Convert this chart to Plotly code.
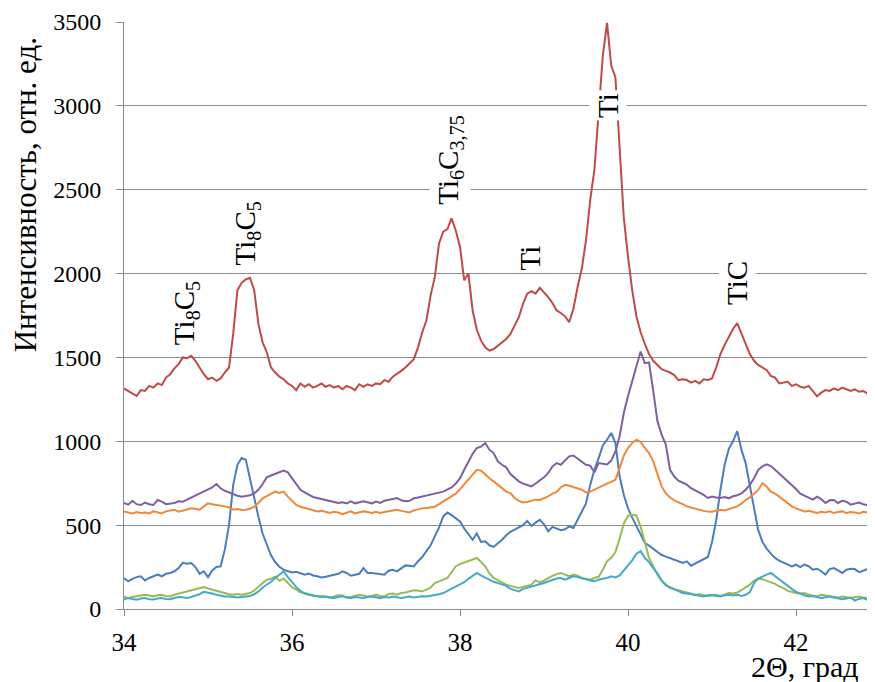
import plotly.graph_objects as go

# 2-theta sampling grid (step 0.05 deg, 34.00 ... 42.95)
two_theta = [round(34 + 0.05 * i, 2) for i in range(180)]

red = [
    1315, 1300, 1285, 1270, 1305, 1300, 1330, 1320, 1345, 1335,
    1380, 1400, 1435, 1460, 1500, 1495, 1510, 1480, 1440, 1400,
    1370, 1380, 1360, 1375, 1410, 1440, 1640, 1900, 1945, 1965,
    1975, 1900, 1700, 1590, 1530, 1440, 1410, 1385, 1370, 1345,
    1330, 1305, 1345, 1325, 1340, 1320, 1330, 1345, 1325, 1335,
    1320, 1330, 1310, 1330, 1320, 1305, 1340, 1325, 1340, 1330,
    1345, 1340, 1365, 1355, 1385, 1400, 1420, 1440, 1465, 1490,
    1560, 1650, 1720, 1870, 1980, 2180, 2250, 2265, 2330, 2255,
    2160, 1960, 2000, 1780, 1665, 1600, 1560, 1540, 1550, 1570,
    1590, 1610, 1640, 1690, 1740, 1820, 1880, 1895, 1880, 1915,
    1890, 1860, 1825, 1780, 1765, 1745, 1710, 1790, 1920, 2030,
    2200, 2440, 2620, 2950, 3300, 3495, 3240, 3170, 2737, 2330,
    2100, 1900, 1744, 1650, 1580, 1520, 1480, 1455, 1430, 1420,
    1410, 1395, 1365, 1370, 1365, 1350, 1360, 1345, 1370, 1365,
    1375, 1440, 1520, 1575, 1620, 1670, 1705, 1640, 1580, 1520,
    1480, 1455, 1440, 1425, 1390, 1380, 1345, 1350, 1355, 1330,
    1340, 1325, 1320, 1330, 1300, 1268, 1290, 1305, 1300, 1315,
    1305, 1320, 1310, 1300, 1310, 1295, 1300, 1285, 1300, 1295,
]

purple = [
    632, 622, 645, 625, 620, 635, 625, 620, 650, 640,
    625, 630, 632, 642, 640, 652, 665, 675, 690, 700,
    712, 725, 745, 720, 705, 695, 681, 675, 670, 672,
    678, 690, 711, 745, 785, 796, 805, 812, 825, 815,
    780, 748, 711, 695, 680, 668, 662, 655, 650, 644,
    638, 632, 636, 630, 642, 630, 635, 642, 636, 630,
    640, 632, 645, 650, 655, 662, 648, 642, 645, 660,
    665, 670, 676, 682, 688, 694, 700, 712, 725, 748,
    780, 830, 880, 925, 960, 968, 990, 950, 930, 880,
    860, 845, 805, 780, 761, 748, 738, 731, 748, 765,
    785, 811, 850, 870, 860, 885, 910, 915, 895, 875,
    860, 855, 815, 870, 865, 862, 885, 940, 1030, 1170,
    1270, 1360, 1450, 1535, 1466, 1470, 1300, 1120, 1040, 980,
    830, 790, 765, 755, 741, 720, 708, 693, 680, 662,
    670, 665, 662, 668, 660, 672, 678, 690, 711, 740,
    780, 830, 850, 862, 852, 830, 808, 780, 762, 741,
    715, 688, 675, 662, 652, 670, 655, 632, 648, 650,
    632, 645, 640, 622, 630, 635, 625, 620, 642, 645,
]

orange = [
    582, 575, 570, 578, 572, 575, 570, 582, 575, 570,
    582, 585, 592, 580, 588, 592, 600, 598, 592, 612,
    630, 625, 622, 618, 612, 605, 592, 596, 590, 592,
    598, 610, 632, 660, 675, 690, 700, 692, 700, 670,
    642, 620, 610, 602, 595, 590, 582, 585, 578, 572,
    580, 575, 565, 575, 582, 570, 575, 582, 578, 572,
    580, 572, 578, 582, 588, 592, 585, 582, 576, 588,
    595, 600, 602, 605, 610, 625, 640, 655, 668, 688,
    715, 745, 775, 800, 830, 825, 800, 780, 761, 740,
    720, 700, 691, 662, 645, 635, 638, 645, 652, 650,
    660, 672, 688, 698, 725, 740, 735, 728, 720, 711,
    695, 700, 712, 725, 733, 748, 758, 771, 840, 915,
    960, 990, 1010, 995, 960, 930, 880, 810, 731, 690,
    665, 648, 638, 625, 612, 605, 600, 592, 585, 582,
    580, 586, 592, 588, 595, 602, 612, 628, 650, 665,
    685, 710, 750, 730, 700, 688, 670, 650, 635, 612,
    600, 590, 582, 585, 580, 572, 580, 575, 582, 572,
    578, 582, 572, 578, 575, 570, 580, 575, 565, 570,
]

blue = [
    185, 165, 180, 190, 195, 170, 185, 195, 205, 195,
    210, 215, 225, 245, 275, 270, 274, 250, 210, 225,
    190, 230, 250, 254, 354, 500, 740, 860, 900, 890,
    770, 655, 550, 450, 380, 320, 280, 252, 234, 225,
    218, 222, 215, 205, 212, 200, 195, 188, 192, 198,
    205, 210, 224, 215, 198, 205, 210, 244, 215, 215,
    212, 210, 205, 228, 234, 224, 240, 260, 258, 254,
    285, 310, 345, 380, 433, 485, 552, 575, 560, 540,
    522, 480, 450, 413, 450, 400, 404, 380, 370, 390,
    413, 440, 460, 473, 485, 500, 525, 495, 515, 532,
    505, 463, 490, 480, 470, 475, 492, 483, 530, 585,
    630, 740, 830, 900, 975, 1009, 1050, 989, 790, 680,
    600, 545, 495, 445, 394, 378, 360, 340, 322, 312,
    304, 296, 285, 275, 284, 258, 270, 285, 295, 310,
    400, 530, 711, 860, 955, 1000, 1060, 950, 870, 740,
    590, 470, 400, 360, 330, 304, 288, 276, 268, 254,
    264, 250, 265, 255, 234, 240, 225, 205, 238, 244,
    230, 215, 234, 240, 238, 220, 228, 240, 254, 262,
]

green = [
    75, 65, 72, 75, 78, 85, 80, 75, 82, 85,
    78, 75, 85, 92, 100, 105, 110, 118, 128, 131,
    122, 115, 108, 100, 95, 88, 85, 90, 85, 88,
    95, 110, 135, 155, 175, 180, 192, 168, 182, 158,
    130, 115, 100, 95, 88, 80, 75, 78, 72, 68,
    75, 82, 80, 68, 72, 78, 85, 80, 75, 78,
    85, 78, 75, 90, 92, 85, 95, 98, 105, 112,
    110, 105, 115, 128, 155, 165, 172, 185, 220, 255,
    268, 276, 284, 292, 304, 280, 254, 212, 185, 172,
    160, 145, 138, 130, 125, 132, 140, 145, 172, 158,
    170, 185, 198, 208, 215, 205, 195, 205, 198, 185,
    178, 175, 185, 192, 235, 285, 305, 340, 420, 510,
    555, 562, 558, 490, 400, 305, 254, 205, 168, 145,
    125, 118, 112, 105, 100, 92, 85, 88, 82, 78,
    80, 85, 78, 85, 95, 92, 98, 112, 128, 145,
    170, 182, 178, 168, 160, 150, 135, 125, 108, 100,
    95, 92, 95, 85, 78, 75, 85, 80, 75, 70,
    68, 75, 72, 65, 70, 75, 68, 65, 72, 75,
]

teal = [
    56, 66, 60, 56, 62, 66, 58, 56, 62, 66,
    60, 58, 66, 72, 70, 66, 72, 78, 88, 102,
    98, 92, 85, 80, 75, 75, 72, 68, 72, 75,
    78, 88, 105, 128, 145, 162, 185, 205, 224, 190,
    160, 132, 108, 92, 85, 80, 76, 72, 75, 68,
    65, 72, 76, 70, 65, 72, 68, 66, 72, 75,
    70, 65, 72, 68, 75, 70, 66, 70, 75, 68,
    72, 76, 75, 78, 82, 88, 95, 108, 120, 135,
    145, 160, 180, 198, 215, 200, 188, 175, 162, 155,
    148, 138, 120, 112, 105, 120, 128, 135, 140, 148,
    155, 165, 175, 182, 185, 175, 185, 195, 190, 182,
    175, 170, 165, 175, 180, 185, 195, 188, 200, 232,
    265, 290, 330, 345, 304, 280, 244, 212, 170, 140,
    130, 118, 105, 95, 92, 88, 85, 80, 75, 82,
    85, 78, 75, 82, 85, 80, 85, 78, 85, 100,
    155, 182, 195, 205, 215, 195, 178, 155, 135, 120,
    102, 90, 82, 75, 78, 72, 65, 70, 75, 68,
    65, 58, 62, 68, 50, 60, 65, 55, 60, 65,
]

# phase labels: text, 2theta, intensity (label centre)
peak_labels = [
    ("Ti<sub>8</sub>C<sub>5</sub>", 34.73, 1766),
    ("Ti<sub>8</sub>C<sub>5</sub>", 35.46, 2237),
    ("Ti<sub>6</sub>C<sub>3,75</sub>", 37.88, 2678),
    ("Ti", 38.83, 2094),
    ("Ti", 39.76, 3005),
    ("TiC", 41.30, 1945),
]

y_ticks = [0, 500, 1000, 1500, 2000, 2500, 3000, 3500]
x_ticks = [34, 36, 38, 40, 42]

series = [
    ("blue", blue, "#4A7EBB"),
    ("red", red, "#BE4B48"),
    ("green", green, "#98B954"),
    ("purple", purple, "#7D60A0"),
    ("teal", teal, "#46AAC5"),
    ("orange", orange, "#F0883A"),
]

FONT = "Liberation Serif"
GRID = "#8C8C8C"

fig = go.Figure()
for name, vals, col in series:
    fig.add_trace(go.Scatter(x=two_theta, y=vals, mode="lines", name=name,
                             line=dict(color=col, width=2), showlegend=False))

for txt, xv, yv in peak_labels:
    fig.add_annotation(x=xv, y=yv, xref="x", yref="y", text=txt, showarrow=False,
                       textangle=-90, font=dict(family=FONT, size=29, color="black"),
                       bgcolor="white", xanchor="center", yanchor="middle", borderpad=2)

fig.add_annotation(x=-0.130, y=2469, xref="paper", yref="y",
                   text="Интенсивность, отн. ед.", showarrow=False, textangle=-90,
                   font=dict(family=FONT, size=31, color="black"),
                   xanchor="center", yanchor="middle")
fig.add_annotation(x=0.907, y=-0.098, xref="paper", yref="paper",
                   text="2Θ, град", showarrow=False,
                   font=dict(family=FONT, size=30, color="black"),
                   xanchor="center", yanchor="middle")

# the page body adds an 8 px offset, so the figure is sized 8 px smaller
fig.update_layout(
    width=867, height=674,
    margin=dict(l=116, r=0, t=14, b=73),
    paper_bgcolor="white", plot_bgcolor="white",
    font=dict(family=FONT, size=24, color="black"),
    xaxis=dict(range=[34, 42.94], tickvals=x_ticks, showgrid=False, zeroline=False,
               showline=True, linecolor=GRID, linewidth=1, ticks="outside",
               ticklen=6, tickcolor=GRID, ticklabelstandoff=5,
               tickfont=dict(family=FONT, size=25)),
    yaxis=dict(range=[0, 3500], tickvals=y_ticks, showgrid=True, gridcolor=GRID,
               gridwidth=1, zeroline=False, showline=True, linecolor=GRID,
               linewidth=1, ticks="outside", ticklen=7, tickcolor=GRID,
               ticklabelstandoff=10, tickfont=dict(family=FONT, size=24)),
)

fig.write_html("out.html")
